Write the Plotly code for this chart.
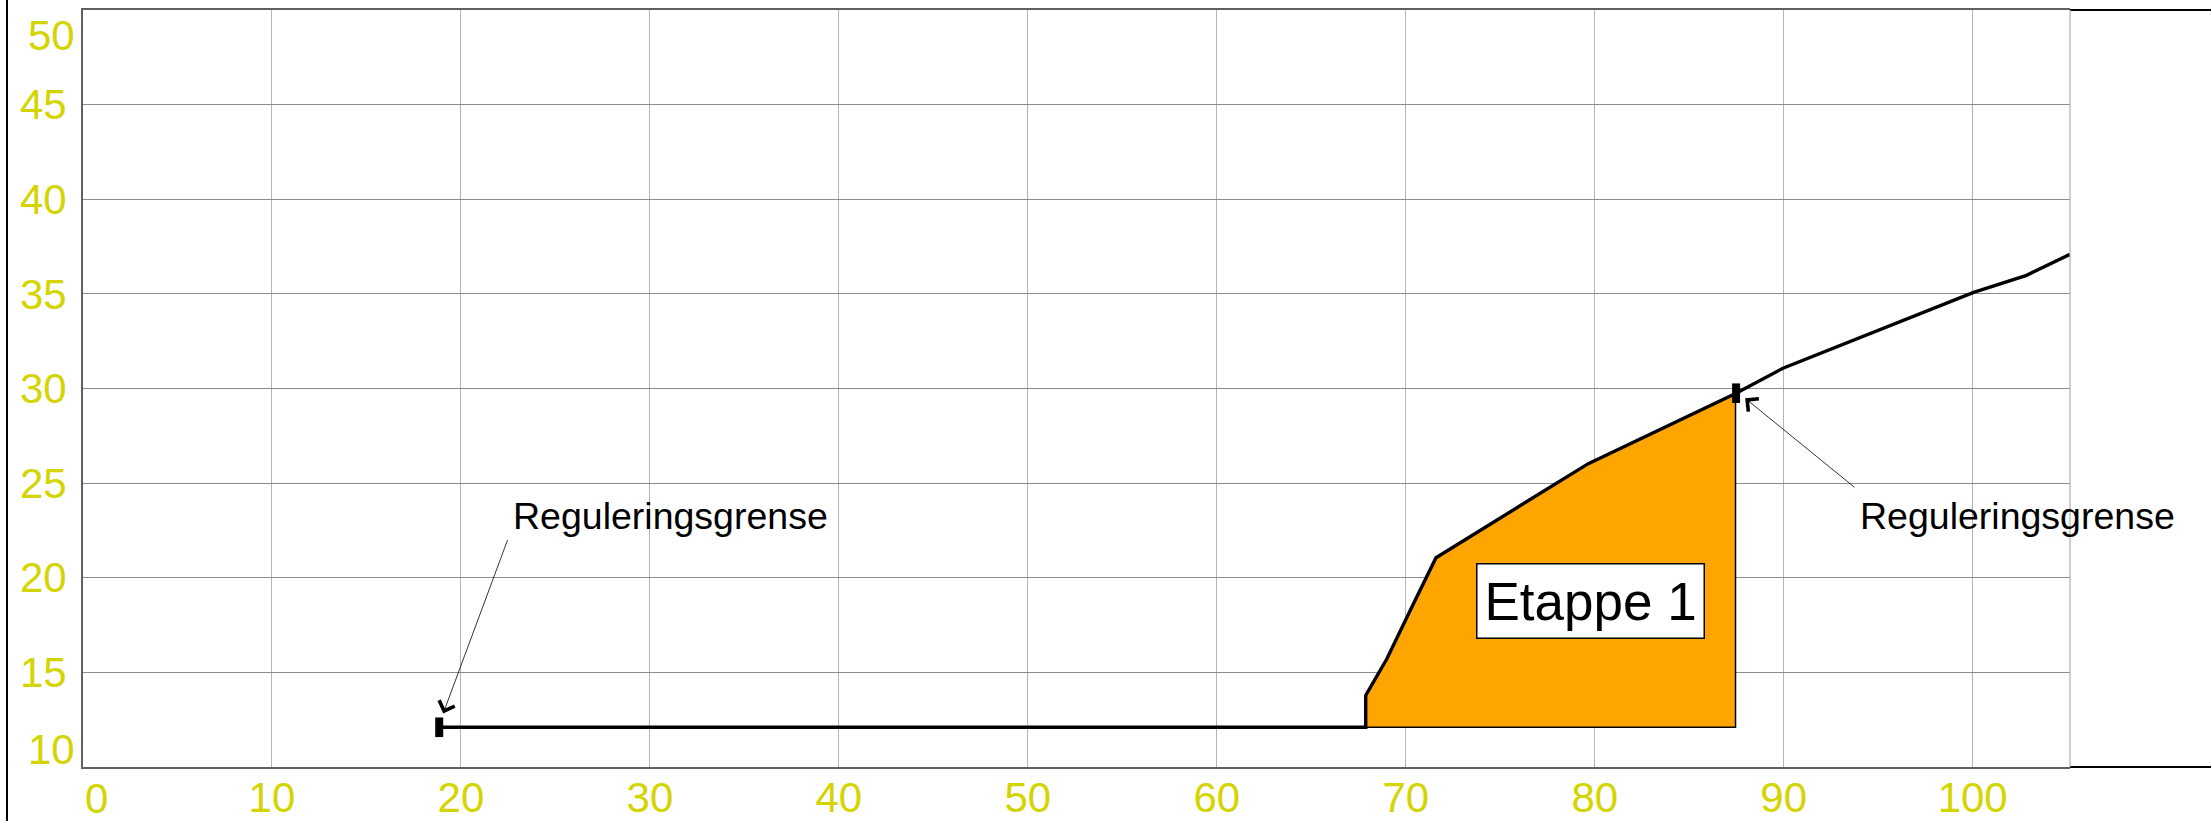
import plotly.graph_objects as go

# ---------------------------------- #
#               DATA                 #
# ---------------------------------- #

# terrain profile (chainage / elevation)
profile_x = [18.85, 67.88, 67.88, 69.0, 70.58, 71.6, 79.66, 87.48, 89.96, 100.05, 102.85, 105.15]
profile_y = [12.1, 12.1, 13.78, 15.72, 18.98, 21.06, 26.03, 29.75, 31.07, 35.08, 35.98, 37.09]

# stage 1 fill area
etappe_x = [67.88, 67.88, 69.0, 70.58, 71.6, 79.66, 87.45, 87.45, 67.88]
etappe_y = [12.1, 13.78, 15.72, 18.98, 21.06, 26.03, 29.72, 12.1, 12.1]

# regulation boundary points
grense_x = [18.85, 87.48]
grense_y = [12.1, 29.75]

x_ticks = [0, 10, 20, 30, 40, 50, 60, 70, 80, 90, 100]
y_ticks = [10, 15, 20, 25, 30, 35, 40, 45, 50]

X_RANGE = [0, 105.15]
Y_RANGE = [10, 50]

FONT = 'Liberation Sans, Arial, sans-serif'
TICK_COLOR = 'rgb(212, 212, 0)'
FRAME_COLOR = '#606060'

fig = go.Figure()

# Orange stage area
fig.add_trace(
    go.Scatter(x=etappe_x, y=etappe_y,
               mode='lines',
               fill='toself',
               fillcolor='#FFA500',
               line=dict(color='black', width=1.5),
               hoverinfo='skip',
               showlegend=False))

# Terrain line
fig.add_trace(
    go.Scatter(x=profile_x, y=profile_y,
               mode='lines',
               line=dict(color='black', width=3.4),
               showlegend=False))

# Boundary marks
fig.add_trace(
    go.Scatter(x=grense_x, y=grense_y,
               mode='markers',
               marker=dict(symbol='line-ns', size=14,
                           line=dict(color='black', width=8)),
               showlegend=False))

annos = []

# Reguleringsgrense labels + arrows
for tx, hx, hy, axx, ayy in [(31.07, 19.06, 12.83, 22.5, 22.08),
                             (102.35, 87.96, 29.48, 93.82, 24.72)]:
    annos.append(dict(x=tx, y=23.25, text='Reguleringsgrense',
                      showarrow=False, xanchor='center', yanchor='middle',
                      font=dict(family=FONT, size=37.5, color='black')))
    annos.append(dict(x=hx, y=hy, ax=axx, ay=ayy,
                      axref='x', ayref='y', text='',
                      showarrow=True, arrowhead=4, arrowsize=4,
                      arrowwidth=0.8, arrowcolor='black'))

annos.append(dict(x=79.8, y=18.75, text='Etappe 1', showarrow=False,
                  bgcolor='white', bordercolor='black', borderwidth=1.5,
                  borderpad=7,
                  font=dict(family=FONT, size=53, color='black')))

# end tick labels (shifted inside, like the original)
annos.append(dict(x=x_ticks[0], y=0, yref='paper', text=str(x_ticks[0]),
                  showarrow=False, xanchor='left', yanchor='top', yshift=-6,
                  font=dict(family=FONT, size=42, color=TICK_COLOR)))
annos.append(dict(x=0, xref='paper', y=y_ticks[0], text=str(y_ticks[0]),
                  showarrow=False, xanchor='right', yanchor='bottom',
                  xshift=-6, yshift=-8,
                  font=dict(family=FONT, size=42, color=TICK_COLOR)))
annos.append(dict(x=0, xref='paper', y=y_ticks[-1], text=str(y_ticks[-1]),
                  showarrow=False, xanchor='right', yanchor='top',
                  xshift=-6, yshift=0,
                  font=dict(family=FONT, size=42, color=TICK_COLOR)))

shapes = [
    # left black border line
    dict(type='line', xref='paper', yref='paper', x0=-0.03825, x1=-0.03825,
         y0=-0.1, y1=1.1, line=dict(color='black', width=2)),
    # black extension of top / bottom frame
    dict(type='line', xref='paper', yref='paper', x0=1, x1=1.08,
         y0=1, y1=1, line=dict(color='black', width=2)),
    dict(type='line', xref='paper', yref='paper', x0=1, x1=1.08,
         y0=0, y1=0, line=dict(color='black', width=2)),
    # right edge of grid
    dict(type='line', xref='paper', yref='paper', x0=1, x1=1,
         y0=0, y1=1, line=dict(color='#b0b0b0', width=1.2)),
]

fig.update_xaxes(range=X_RANGE,
                 tickvals=x_ticks[1:],
                 ticktext=[str(v) for v in x_ticks[1:]],
                 tickfont=dict(family=FONT, size=42, color=TICK_COLOR),
                 ticks='', ticklabelstandoff=-7,
                 showgrid=True, gridcolor='#b4b4b4', gridwidth=1.2,
                 zeroline=False,
                 showline=True, linecolor=FRAME_COLOR, linewidth=2,
                 mirror=True)

fig.update_yaxes(range=Y_RANGE,
                 tickvals=y_ticks[1:-1],
                 ticktext=[str(v) for v in y_ticks[1:-1]],
                 tickfont=dict(family=FONT, size=42, color=TICK_COLOR),
                 ticks='', ticklabelstandoff=6,
                 showgrid=True, gridcolor='#8c8c8c', gridwidth=1.2,
                 zeroline=False,
                 showline=True, linecolor=FRAME_COLOR, linewidth=2,
                 mirror=False)

fig.update_layout(
    width=2211, height=821,
    plot_bgcolor='white', paper_bgcolor='white',
    font_family=FONT,
    margin=dict(l=83, r=141, t=10, b=54, autoexpand=False),
    annotations=annos,
    shapes=shapes,
    showlegend=False)

# page body has a default 8px margin; drop it so the figure fills the window
fig.write_html("out.html",
               config={'displayModeBar': False},
               post_script="document.body.style.margin='0';"
                           "document.body.style.overflow='hidden';")
